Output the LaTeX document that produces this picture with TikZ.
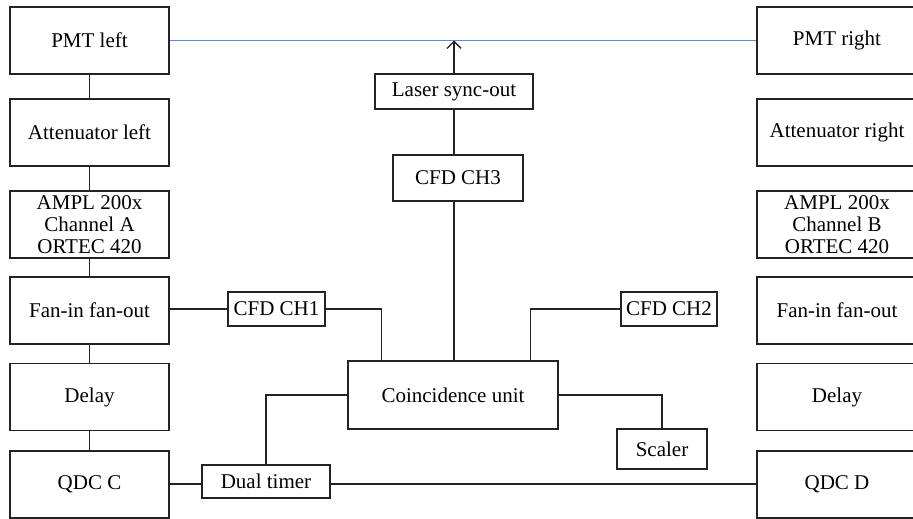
\documentclass[tikz,border=0pt]{standalone}
\usepackage{fontspec}
\setmainfont{Liberation Serif}
\usetikzlibrary{arrows.meta,calc}
\definecolor{lnk}{RGB}{35,35,35}
\definecolor{bluel}{RGB}{74,144,222}
\begin{document}
\begin{tikzpicture}[x=1pt,y=-1pt,
  box/.style={draw=lnk,line width=1.4pt,inner sep=0pt,align=center,
    font=\fontsize{21}{21.7}\selectfont},
  col/.style={box,minimum width=159pt,minimum height=67pt},
  wire/.style={draw=lnk,line width=1.4pt}]
\clip (0,0) rectangle (913,519);
\fill[white] (0,0) rectangle (913,519);
% left column
\node[col] (pmtl) at (89.5,40.5) {PMT left};
\node[col] (attl) at (89.5,132.5) {Attenuator left};
\node[col] (ampa) at (89.5,224.5) {AMPL 200x\\Channel A\\ORTEC 420};
\node[col] (fanl) at (89.5,310.5) {Fan-in fan-out};
\node[col] (dell) at (89.5,397) {Delay};
\node[col] (qdcc) at (89.5,484.5) {QDC C};
% right column
\node[col,minimum width=160pt] (pmtr) at (837,40.5) {PMT right};
\node[col,minimum width=160pt] (attr) at (837,132.5) {Attenuator right};
\node[col,minimum width=160pt] (ampb) at (837,224.5) {AMPL 200x\\Channel B\\ORTEC 420};
\node[col,minimum width=160pt] (fanr) at (837,310.5) {Fan-in fan-out};
\node[col,minimum width=160pt] (delr) at (837,397) {Delay};
\node[col,minimum width=160pt] (qdcd) at (837,484.5) {QDC D};
% middle
\node[box,minimum width=158pt,minimum height=35pt] (laser) at (454,91.5) {Laser sync-out};
\node[box,minimum width=130pt,minimum height=46pt] (cfd3) at (458,178) {CFD CH3};
\node[box,minimum width=97pt,minimum height=34pt] (cfd1) at (276.5,309) {CFD CH1};
\node[box,minimum width=96pt,minimum height=34pt] (cfd2) at (669,309) {CFD CH2};
\node[box,minimum width=210pt,minimum height=68pt] (coin) at (453,395) {Coincidence unit};
\node[box,minimum width=90pt,minimum height=40pt] (scaler) at (662,449) {Scaler};
\node[box,minimum width=128pt,minimum height=33pt] (dual) at (266,481.5) {Dual timer};
% connectors
\draw[wire] (pmtl) -- (attl);
\draw[wire] (attl) -- (ampa);
\draw[wire] (ampa) -- (fanl);
\draw[wire] (fanl) -- (dell);
\draw[wire] (dell) -- (qdcc);
\draw[draw=bluel,line width=1.4pt] (pmtl.east) -- (pmtr.west);
\draw[wire,-{Straight Barb[length=7pt,width=14pt,line width=1.4pt]}] (laser.north) -- (laser.north |- pmtl.east);
\draw[wire] (cfd3.north -| laser) -- (laser.south);
\draw[wire] (cfd3.south -| laser) -- (coin.north -| laser);
\draw[wire] (fanl.east |- cfd1.east) -- (cfd1.west);
\draw[wire] (cfd1.east) -| ($(coin.north west)+(34,0)$);
\draw[wire] (cfd2.west) -| ($(coin.north east)+(-28,0)$);
\draw[wire] (coin.east) -| (scaler.north);
\draw[wire] (coin.west) -| (dual.north);
\draw[wire] (qdcc.east |- 0,484) -- (dual.west |- 0,484);
\draw[wire] (dual.east |- 0,484) -- (qdcd.west |- 0,484);
\end{tikzpicture}
\end{document}
